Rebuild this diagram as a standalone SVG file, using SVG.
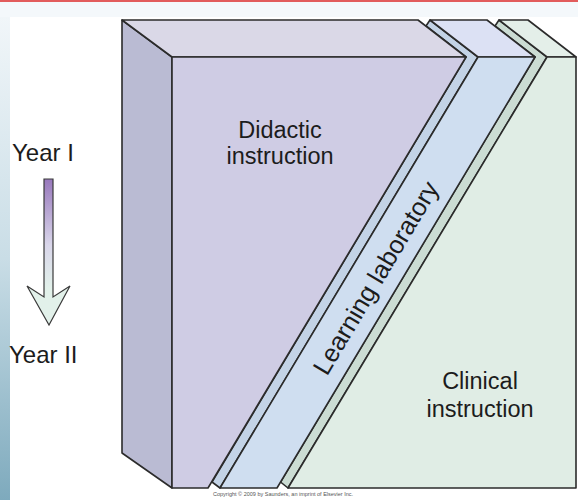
<svg xmlns="http://www.w3.org/2000/svg" width="578" height="500" viewBox="0 0 578 500">
<defs>
<linearGradient id="edge" x1="0" y1="0" x2="0" y2="1">
<stop offset="0" stop-color="#f1f6f9"/>
<stop offset="0.5" stop-color="#c9dde6"/>
<stop offset="1" stop-color="#7eaabd"/>
</linearGradient>
<linearGradient id="arrowGrad" gradientUnits="userSpaceOnUse" x1="0" y1="179" x2="0" y2="325">
<stop offset="0" stop-color="#9878bc"/>
<stop offset="0.45" stop-color="#d9d6ea"/>
<stop offset="0.75" stop-color="#e2f1ea"/>
<stop offset="1" stop-color="#e2f1ea"/>
</linearGradient>
<style>
.f{stroke:#2b2b2b;stroke-width:1.6;stroke-linejoin:round}
.t{font-family:"Liberation Sans",Arial,sans-serif;fill:#1c1c1c}
</style>
</defs>
<rect x="0" y="0" width="578" height="500" fill="#ffffff"/>
<rect x="0" y="0" width="578" height="17" fill="#f4f8fb"/>
<rect x="0" y="0" width="578" height="2" fill="#e25c5c"/>
<rect x="0" y="17" width="10" height="483" fill="url(#edge)"/>

<g id="clinical">
<polygon class="f" points="499,20 547,57 288,488 280.5,482 535,57 495,26" fill="#cbdcd3"/>
<polygon class="f" points="499,20 528,20 576,57 547,57" fill="#e4efe9"/>
<polygon class="f" points="547,57 576,57 576,488 288,488" fill="#e0ede5"/>
<text class="t" x="480" y="389" font-size="23.5" text-anchor="middle">Clinical</text>
<text class="t" x="480" y="417" font-size="23.5" text-anchor="middle">instruction</text>
</g>

<g id="learning-laboratory">
<polygon class="f" points="430,20 478,57 220,488 212,482 466,57 426,26" fill="#c3d3e6"/>
<polygon class="f" points="430,20 487,20 535,57 478,57" fill="#dce1f4"/>
<polygon class="f" points="478,57 535,57 277,488 220,488" fill="#cfdef0"/>
<text class="t" font-size="25.5" text-anchor="middle" transform="translate(376,278) rotate(-59.2)" y="8.5">Learning laboratory</text>
</g>

<g id="didactic">
<polygon class="f" points="122,20 172,57 172,488 122,453" fill="#babbd3"/>
<polygon class="f" points="122,20 418,20 466,57 172,57" fill="#dad8e7"/>
<polygon class="f" points="172,57 466,57 208,488 172,488" fill="#cfcce4"/>
<text class="t" x="280" y="138" font-size="23.5" text-anchor="middle">Didactic</text>
<text class="t" x="280" y="164" font-size="23.5" text-anchor="middle">instruction</text>
</g>

<g id="year-labels">
<text class="t" x="12" y="161" font-size="24">Year I</text>
<text class="t" x="9" y="363" font-size="24">Year II</text>
</g>

<g id="connectors">
<polygon points="44,179 53,179 53,297 70,286 49,325 27,286 44,297" fill="url(#arrowGrad)" stroke="#3a3a3a" stroke-width="1.2" stroke-linejoin="miter"/>
</g>

<text class="t" x="213" y="496" font-size="5.5" style="fill:#555555">Copyright © 2009 by Saunders, an imprint of Elsevier Inc.</text>
</svg>
